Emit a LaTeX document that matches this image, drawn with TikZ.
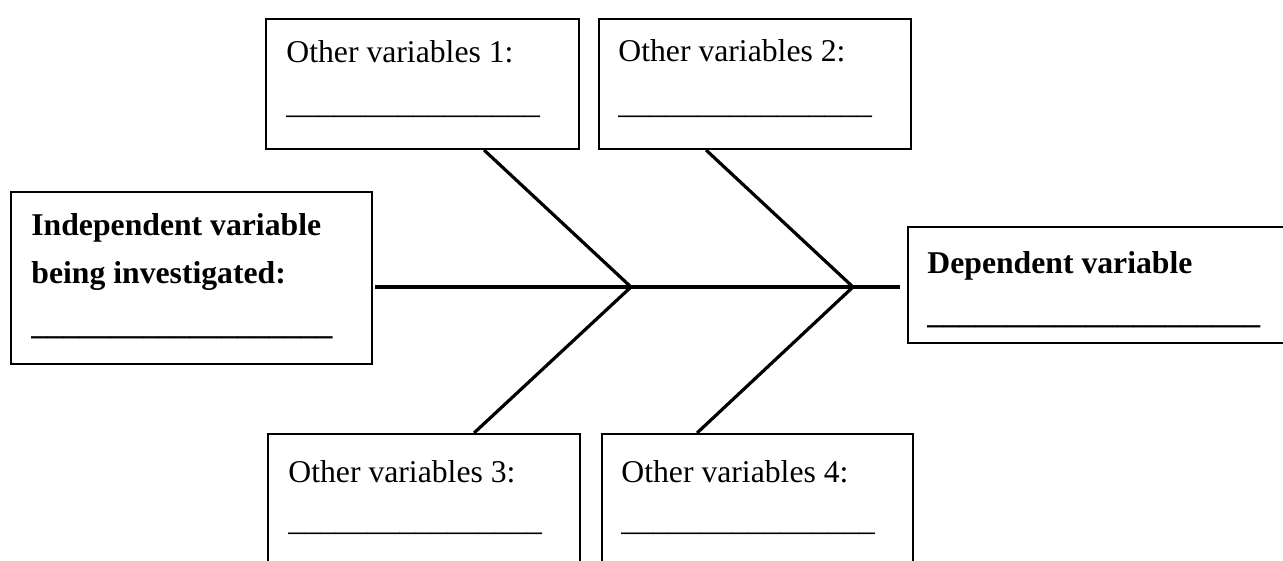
\documentclass[tikz,border=0pt]{standalone}
\usepackage{fontspec}
\setmainfont{Liberation Serif}
\usetikzlibrary{calc}

\begin{document}
\begin{tikzpicture}[x=0.5pt, y=-0.5pt, font=\fontsize{15.85}{19}\selectfont,
    box/.style={draw, line width=1pt, anchor=north west, inner sep=0pt},
    txt/.style={anchor=base west, inner sep=0pt},
    bone/.style={line width=1.6pt}]
        \useasboundingbox (0,0) rectangle (1283,561);
        \clip (0,0) rectangle (1283,561);

        % boxes
        \node[box, minimum width=156.5pt, minimum height=65pt] (ov1) at (265,18) {};
        \node[box, minimum width=156pt, minimum height=65pt] (ov2) at (598,18) {};
        \node[box, minimum width=180.5pt, minimum height=86pt] (iv) at (10,191) {};
        \node[box, minimum width=195pt, minimum height=58pt] (dv) at (907,226) {};
        \node[box, minimum width=156pt, minimum height=85pt] (ov3) at (267,433) {};
        \node[box, minimum width=155.5pt, minimum height=85pt] (ov4) at (601,433) {};

        % texts
        \node[txt] (ov1a) at ([shift={(21,45)}]ov1.north west) {Other variables 1:};
        \node[txt] (ov1b) at ([shift={(21,96)}]ov1.north west) {\_\_\_\_\_\_\_\_\_\_\_\_\_\_\_\_};
        \node[txt] (ov2a) at ([shift={(20,44)}]ov2.north west) {Other variables 2:};
        \node[txt] (ov2b) at ([shift={(20,96)}]ov2.north west) {\_\_\_\_\_\_\_\_\_\_\_\_\_\_\_\_};
        \node[txt, font=\fontsize{15.85}{19}\selectfont\bfseries] (iva) at ([shift={(21,44)}]iv.north west) {Independent variable};
        \node[txt, font=\fontsize{15.85}{19}\selectfont\bfseries] (ivb) at ([shift={(21,92)}]iv.north west) {being investigated:};
        \node[txt, font=\fontsize{15.85}{19}\selectfont\bfseries] (ivc) at ([shift={(21,143)}]iv.north west) {\_\_\_\_\_\_\_\_\_\_\_\_\_\_\_\_\_\_\_};
        \node[txt, font=\fontsize{15.85}{19}\selectfont\bfseries] (dva) at ([shift={(20,47)}]dv.north west) {Dependent variable};
        \node[txt, font=\fontsize{15.85}{19}\selectfont\bfseries] (dvb) at ([shift={(20,97)}]dv.north west) {\_\_\_\_\_\_\_\_\_\_\_\_\_\_\_\_\_\_\_\_\_};
        \node[txt] (ov3a) at ([shift={(21,49)}]ov3.north west) {Other variables 3:};
        \node[txt] (ov3b) at ([shift={(21,97)}]ov3.north west) {\_\_\_\_\_\_\_\_\_\_\_\_\_\_\_\_};
        \node[txt] (ov4a) at ([shift={(20,49)}]ov4.north west) {Other variables 4:};
        \node[txt] (ov4b) at ([shift={(20,97)}]ov4.north west) {\_\_\_\_\_\_\_\_\_\_\_\_\_\_\_\_};

        % fish bones
        \coordinate (j1) at (631,287);
        \coordinate (j2) at (853,287);
        \draw[line width=2pt, shorten <=1pt, shorten >=3.5pt] (iv.east |- j1) -- (dv.west |- j1);
        \draw[bone] ([xshift=109.5pt]ov1.south west) -- (j1) -- ([xshift=103.5pt]ov3.north west);
        \draw[bone] ([xshift=54pt]ov2.south west) -- (j2) -- ([xshift=48pt]ov4.north west);
\end{tikzpicture}
\end{document}
